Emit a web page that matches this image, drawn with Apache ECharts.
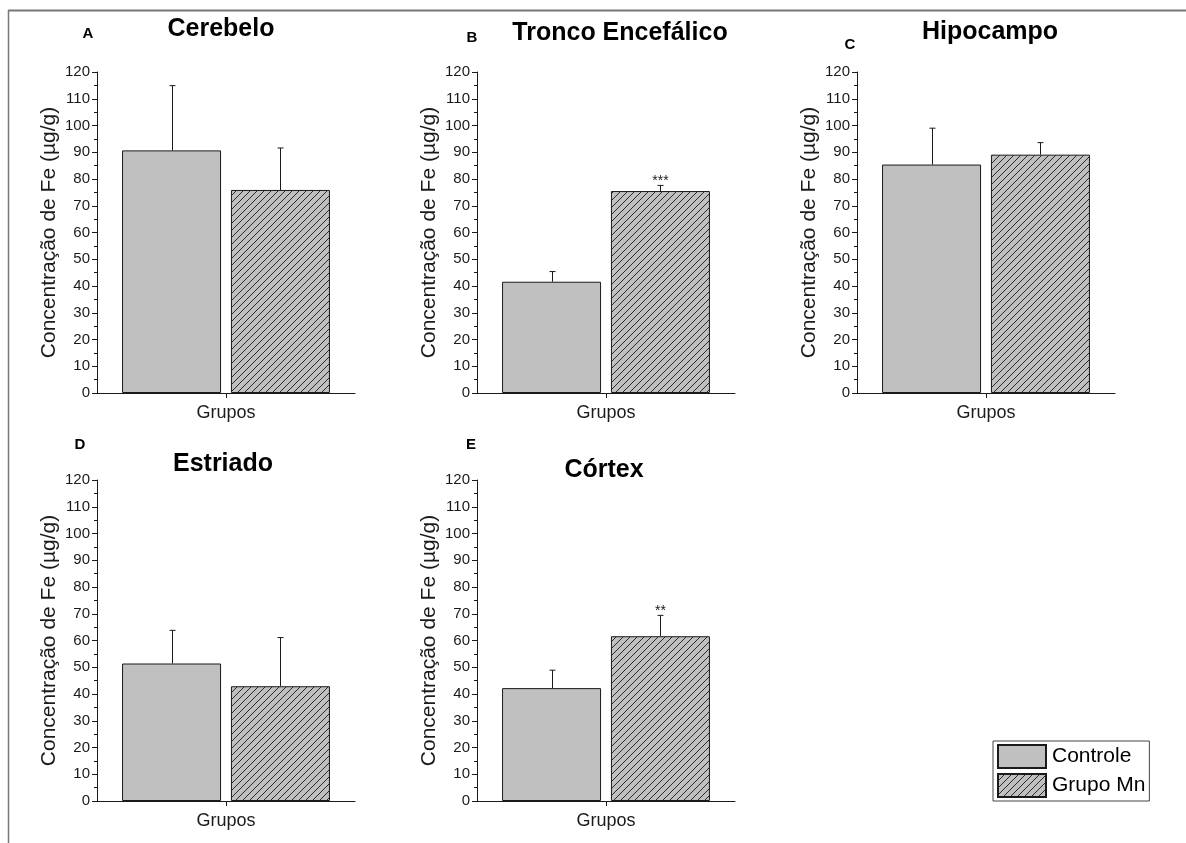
<!DOCTYPE html>
<html>
<head>
<meta charset="utf-8">
<script src="https://cdn.jsdelivr.net/npm/echarts@6/dist/echarts.min.js"></script>
<style>
  html, body { margin: 0; padding: 0; background: #fff; }
  #chart { width: 1186px; height: 843px; }
</style>
</head>
<body>
<div id="chart"></div>
<script>
// Iron concentration (µg/g) per brain region, mean and SD for each group
const groups = ['Controle', 'Grupo Mn'];
const panelLetters = ['A', 'B', 'C', 'D', 'E'];
const regions = ['Cerebelo', 'Tronco Encefálico', 'Hipocampo', 'Estriado', 'Córtex'];
const controlMean = [90.7, 41.6, 85.4, 51.4, 42.2];
const controlSD = [24.2, 3.8, 13.6, 12.4, 6.7];
const mnMean = [75.9, 75.5, 89.1, 42.9, 61.6];
const mnSD = [15.7, 2.1, 4.5, 18.2, 7.8];
const mnSignificance = ['', '***', '', '', '**'];
const yMin = 0, yMax = 120, yStep = 10;
const xAxisName = 'Grupos';
const yAxisName = 'Concentração de Fe (µg/g)';

// Panel layout (pixels)
const layout = [
  { left: 97,  top: 72,  letter: [88, 34],  title: [221, 29] },
  { left: 477, top: 72,  letter: [472, 38], title: [620, 33] },
  { left: 857, top: 72,  letter: [850, 45], title: [990, 32] },
  { left: 97,  top: 480, letter: [80, 445], title: [223, 464] },
  { left: 477, top: 480, letter: [471, 445], title: [604, 470] }
];
const GRID_W = 258, GRID_H = 321;
const BAR_W = 99, BAR_GAP = '10%';
const HALF_STEP = (BAR_W + BAR_W * 0.10) / 2;

const FONT = '"Liberation Sans", Arial, sans-serif';
const INK = '#1a1a1a';

// Diagonal hatch for the Mn group
function hatchPattern(size) {
  const c = document.createElement('canvas');
  c.width = size; c.height = size;
  const g = c.getContext('2d');
  g.fillStyle = '#c0c0c0';
  g.fillRect(0, 0, size, size);
  g.strokeStyle = '#2a2a2a';
  g.lineWidth = 1;
  g.beginPath();
  g.moveTo(-1, size + 1); g.lineTo(size + 1, -1);
  g.moveTo(-2, 2); g.lineTo(2, -2);
  g.moveTo(size - 2, size + 2); g.lineTo(size + 2, size - 2);
  g.stroke();
  return c;
}
const hatch = { image: hatchPattern(7), repeat: 'repeat' };

const grid = [], xAxis = [], yAxis = [], series = [], graphic = [];

// Outer frame lines
graphic.push({ type: 'line', shape: { x1: 8, y1: 10.5, x2: 1186, y2: 10.5 }, style: { stroke: '#777', lineWidth: 2 }, silent: true });
graphic.push({ type: 'line', shape: { x1: 8.5, y1: 10, x2: 8.5, y2: 843 }, style: { stroke: '#777', lineWidth: 1.5 }, silent: true });

function errorRenderer(mean, sd, side, sig) {
  return function (params, api) {
    const base = api.coord([0, mean]);
    const top = api.coord([0, mean + sd]);
    const x = Math.round(base[0] + side * HALF_STEP) + 0.5;
    const children = [
      { type: 'line', shape: { x1: x, y1: base[1], x2: x, y2: top[1] }, style: { stroke: INK, lineWidth: 1 } },
      { type: 'line', shape: { x1: x - 3, y1: top[1], x2: x + 3, y2: top[1] }, style: { stroke: INK, lineWidth: 1 } }
    ];
    if (sig) {
      children.push({ type: 'text', style: { text: sig, x: x, y: top[1] + 3, align: 'center', verticalAlign: 'bottom', font: '14px ' + FONT, fill: INK } });
    }
    return { type: 'group', children: children };
  };
}

regions.forEach((name, i) => {
  const L = layout[i];
  grid.push({ left: L.left, top: L.top, width: GRID_W, height: GRID_H, containLabel: false });
  xAxis.push({
    type: 'category', gridIndex: i, data: [''],
    name: xAxisName, nameLocation: 'middle', nameGap: 11,
    nameTextStyle: { fontFamily: FONT, fontSize: 18, color: INK },
    axisLine: { show: true, lineStyle: { color: INK, width: 1 } },
    axisTick: { show: true, alignWithLabel: true, length: 5, lineStyle: { color: INK } },
    axisLabel: { show: false }, splitLine: { show: false }
  });
  yAxis.push({
    type: 'value', gridIndex: i, min: yMin, max: yMax, interval: yStep,
    name: yAxisName, nameLocation: 'middle', nameGap: 37, nameRotate: 90,
    nameTextStyle: { fontFamily: FONT, fontSize: 21, color: INK },
    axisLine: { show: true, lineStyle: { color: INK, width: 1 } },
    axisTick: { show: true, length: 5, lineStyle: { color: INK } },
    minorTick: { show: true, splitNumber: 2, length: 3, lineStyle: { color: INK } },
    axisLabel: { fontFamily: FONT, fontSize: 15, color: INK, margin: 7 },
    splitLine: { show: false }
  });
  series.push({
    name: groups[0], type: 'bar', xAxisIndex: i, yAxisIndex: i,
    barWidth: BAR_W, barGap: BAR_GAP, data: [controlMean[i]],
    itemStyle: { color: '#c0c0c0', borderColor: INK, borderWidth: 1 },
    emphasis: { disabled: true }, animation: false
  });
  series.push({
    name: groups[1], type: 'bar', xAxisIndex: i, yAxisIndex: i,
    barWidth: BAR_W, barGap: BAR_GAP, data: [mnMean[i]],
    itemStyle: { color: hatch, borderColor: INK, borderWidth: 1 },
    emphasis: { disabled: true }, animation: false
  });
  series.push({
    type: 'custom', xAxisIndex: i, yAxisIndex: i, data: [[0, controlMean[i]]],
    renderItem: errorRenderer(controlMean[i], controlSD[i], -1, ''), z: 5, silent: true, animation: false
  });
  series.push({
    type: 'custom', xAxisIndex: i, yAxisIndex: i, data: [[0, mnMean[i]]],
    renderItem: errorRenderer(mnMean[i], mnSD[i], 1, mnSignificance[i]), z: 5, silent: true, animation: false
  });
  graphic.push({ type: 'text', style: { text: panelLetters[i], x: L.letter[0], y: L.letter[1], align: 'center', verticalAlign: 'middle', font: 'bold 15px ' + FONT, fill: '#000' }, silent: true });
  graphic.push({ type: 'text', style: { text: name, x: L.title[0], y: L.title[1], align: 'center', verticalAlign: 'middle', font: 'bold 25px ' + FONT, fill: '#000' }, silent: true });
});

const chart = echarts.init(document.getElementById('chart'), null, { renderer: 'canvas' });
chart.setOption({
  backgroundColor: '#ffffff',
  animation: false,
  grid, xAxis, yAxis, series, graphic,
  legend: {
    data: groups, orient: 'vertical', left: 993, top: 741,
    padding: [3, 4, 3, 4], itemWidth: 48, itemHeight: 23, itemGap: 4,
    icon: 'rect', borderColor: '#444', borderWidth: 1,
    textStyle: { fontFamily: FONT, fontSize: 21, color: '#000', padding: [0, 0, 0, 1] },
    selectedMode: false
  }
});
</script>
</body>
</html>
